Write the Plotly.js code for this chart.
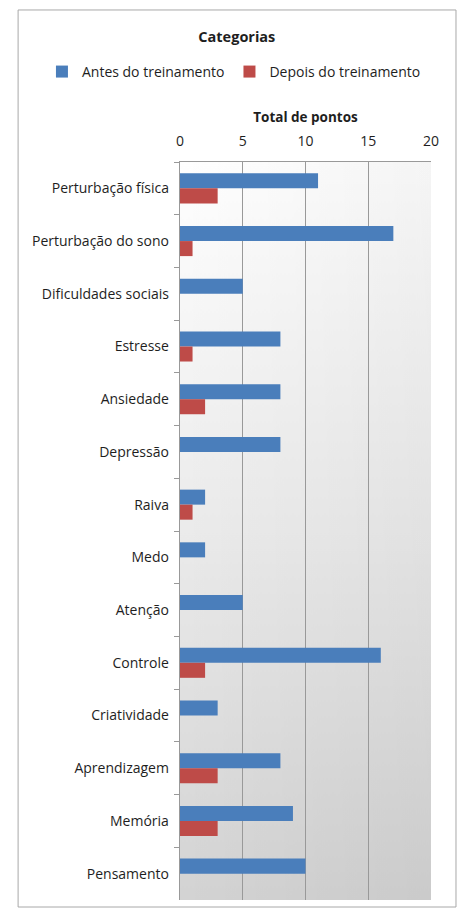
<!DOCTYPE html>
<html><head><meta charset="utf-8">
<script src="https://cdn.plot.ly/plotly-3.0.1.min.js"></script>
<style>html,body{margin:0;padding:0;background:#fff}#c{width:459px;height:909px}</style>
</head><body><div id="c"></div>
<script>
const categories = ["Perturbação física","Perturbação do sono","Dificuldades sociais","Estresse","Ansiedade","Depressão","Raiva","Medo","Atenção","Controle","Criatividade","Aprendizagem","Memória","Pensamento"];
const antes = [11,17,5,8,8,8,2,2,5,16,3,8,9,10];
const depois = [3,1,0,1,2,0,1,0,0,2,0,3,3,0];
const seriesNames = ["Antes do treinamento","Depois do treinamento"];
const xTicks = [0,5,10,15,20];

const font = "'Open Sans', sans-serif";
const txt = '#1e1e1e';

// background gradient of the plot area, drawn on a canvas
const cv = document.createElement('canvas');
cv.width = 250; cv.height = 740;
const ctx = cv.getContext('2d');
const gv = ctx.createLinearGradient(0, 0, 0, cv.height);
gv.addColorStop(0, '#ffffff');
gv.addColorStop(0.5, '#ebebeb');
gv.addColorStop(1, '#d3d3d3');
ctx.fillStyle = gv; ctx.fillRect(0, 0, cv.width, cv.height);
const gh = ctx.createLinearGradient(0, 0, cv.width, 0);
gh.addColorStop(0, 'rgba(0,0,0,0)');
gh.addColorStop(1, 'rgba(0,0,0,0.04)');
ctx.fillStyle = gh; ctx.fillRect(0, 0, cv.width, cv.height);
const grad = cv.toDataURL('image/png');

const traces = [
 {type:'bar', orientation:'h', y:categories, x:antes, name:seriesNames[0], marker:{color:'#4A7EBB'}},
 {type:'bar', orientation:'h', y:categories, x:depois, name:seriesNames[1], marker:{color:'#BE4B48'}}
];
const layout = {
 width:459, height:909,
 margin:{l:180, r:28, t:162, b:9},
 paper_bgcolor:'#fff', plot_bgcolor:'rgba(0,0,0,0)',
 font:{family:font, size:14, color:txt},
 barmode:'group', bargap:0.43, bargroupgap:0,
 title:{text:'<b>Categorias</b>', x:0.516, xanchor:'center', y:0.959, yanchor:'middle', font:{family:font, size:14.5, color:txt}},
 showlegend:true,
 legend:{orientation:'h', x:-0.55, xanchor:'left', y:1.122, yanchor:'middle', font:{family:font, size:14, color:txt}, traceorder:'normal', itemwidth:30},
 xaxis:{side:'top', range:[0,20], tickvals:xTicks, showgrid:true, gridcolor:'#999999', gridwidth:1.2,
   showline:true, linecolor:'#999999', ticks:'outside', ticklen:9, tickcolor:'rgba(0,0,0,0)', zeroline:false,
   title:{text:'<b>Total de pontos</b>', font:{family:font, size:13.5, color:txt}, standoff:5},
   tickfont:{family:font, size:14, color:txt}, fixedrange:true},
 yaxis:{type:'category', autorange:'reversed', showline:true, linecolor:'#999999', ticks:'outside', tickson:'boundaries', ticklen:5, tickcolor:'#999999',
   showgrid:false, tickfont:{family:font, size:14, color:txt}, ticksuffix:'  ', fixedrange:true},
 images:[{source:grad, xref:'paper', yref:'paper', x:0, y:1, sizex:1, sizey:1, sizing:'stretch', layer:'below', xanchor:'left', yanchor:'top'}],
 shapes:[{type:'rect', xref:'paper', yref:'paper', x0:-0.645, x1:1.0996, y0:-0.0095, y1:1.206, line:{color:'#a8a8a8', width:1}, fillcolor:'rgba(0,0,0,0)', layer:'above'}]
};
Plotly.newPlot('c', traces, layout, {displayModeBar:false, staticPlot:true});
</script></body></html>
